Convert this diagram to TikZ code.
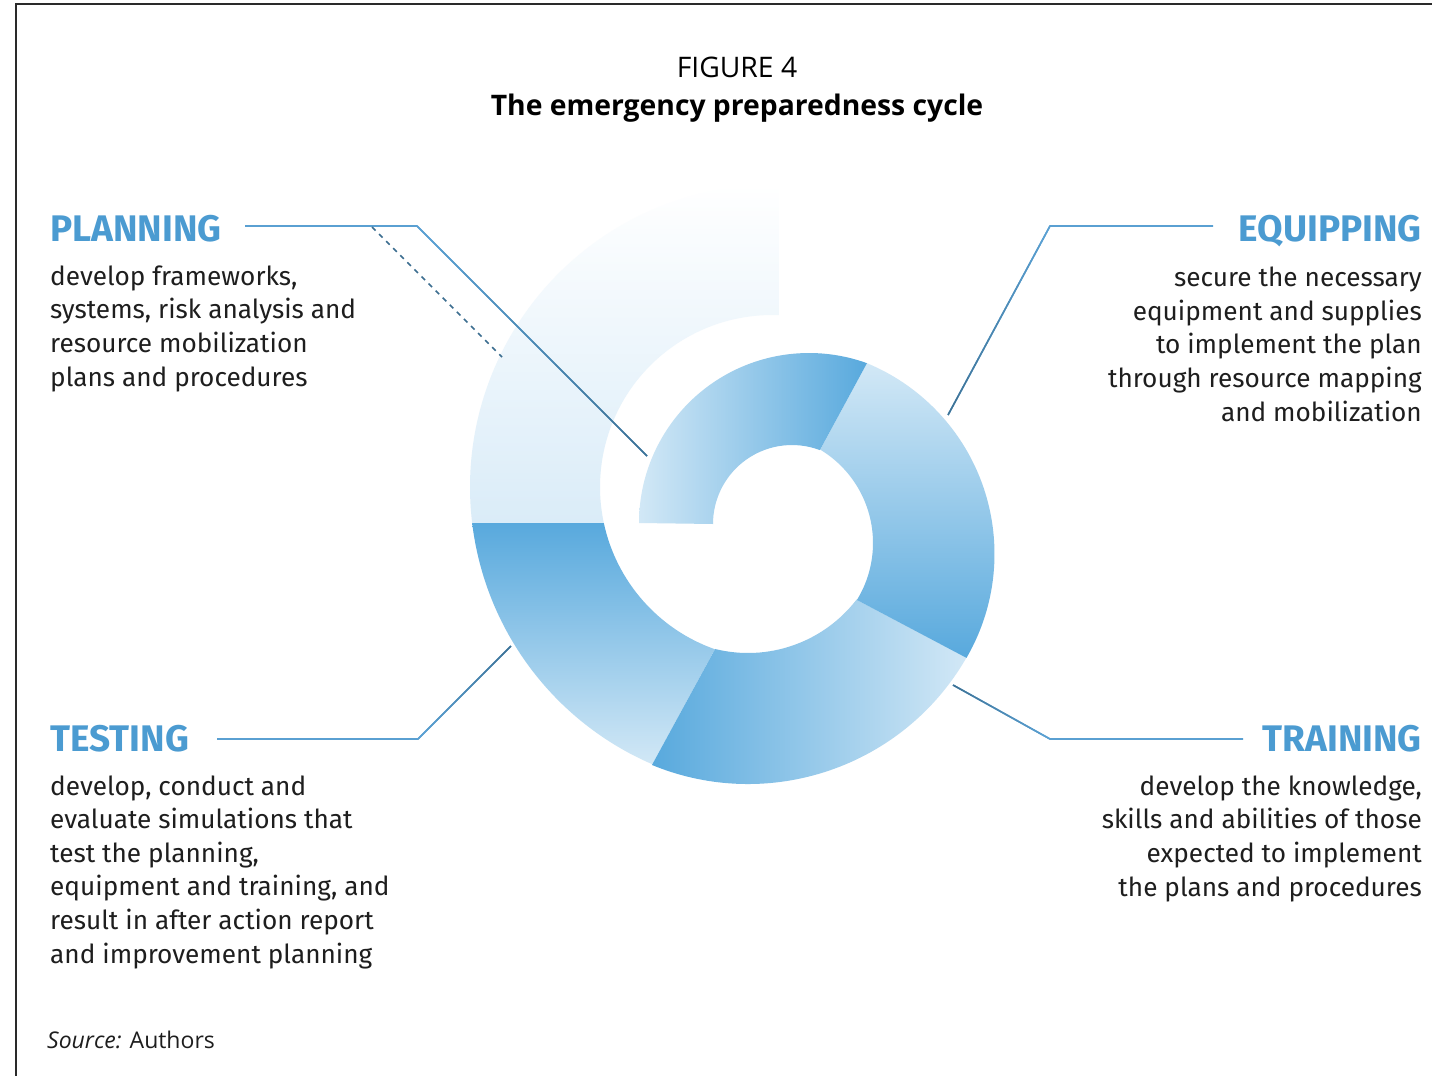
\documentclass[tikz,border=0pt]{standalone}
\usepackage{fontspec}
\setmainfont{Fira Sans}
\newfontfamily\titlefont{Open Sans}
\usetikzlibrary{calc}
\definecolor{segdark}{HTML}{58A9DD}
\definecolor{seglight}{HTML}{D2E8F6}
\definecolor{segfaint}{HTML}{DAECF8}
\definecolor{lblblue}{HTML}{4B9BD1}
\definecolor{lineblue}{HTML}{5AA0D2}
\definecolor{linedark}{HTML}{35617F}
\definecolor{txt}{HTML}{1E1E1E}
\definecolor{frame}{HTML}{2A2A2A}
\begin{document}
\begin{tikzpicture}[x=1pt,y=1pt,
  lbl/.style={font=\bfseries\fontsize{37}{42}\selectfont, text=lblblue, inner sep=0pt},
  body/.style={font=\fontsize{26.2}{33.6}\selectfont, text=txt, inner sep=0pt},
  conn/.style={draw=lineblue, line width=1.6pt, line join=miter},
  dashconn/.style={draw=linedark!80!lineblue, line width=1.6pt, dash pattern=on 5pt off 5pt}]
\useasboundingbox (0,0) rectangle (1432,-1076);
\fill[white] (0,0) rectangle (1432,-1076);
% frame
\draw[frame, line width=2.4pt] (16,-1076) -- (16,-4) -- (1432,-4);
% title
\node[font=\titlefont\fontsize{28.3}{32}\selectfont, anchor=base, inner sep=0pt] (fig) at (737,-77) {FIGURE 4};
\node[font=\titlefont\bfseries\fontsize{28.3}{32}\selectfont, anchor=base, inner sep=0pt] (ttl) at (737,-115) {The emergency preparedness cycle};
% spiral segments
% faint (upper left)
\shade[top color=white, bottom color=segfaint]
  ($(772,-487)+(186.85:302)$) arc[start angle=186.85, end angle=88.7, radius=302]
  -- ($(772,-487)+(87.7:172)$) arc[start angle=87.7, end angle=192.1, radius=172] -- cycle;
% testing
\shade[top color=segdark, bottom color=seglight]
  ($(772,-487)+(-113.35:302)$) arc[start angle=-113.35, end angle=-173.15, radius=302]
  -- ($(772,-487)+(-167.9:172)$) arc[start angle=-167.9, end angle=-109.4, radius=172] -- cycle;
% training
\shade[left color=segdark, right color=seglight]
  ($(748,-532)+(-29.9:252)$) arc[start angle=-29.9, end angle=-112.4, radius=252]
  -- ($(748,-516)+(-103.9:137)$) arc[start angle=-103.9, end angle=-37.6, radius=137] -- cycle;
% equipping
\shade[top color=seglight, bottom color=segdark]
  ($(788,-554)+(67.5:206.5)$) arc[start angle=67.5, end angle=-30.2, radius=206.5]
  -- ($(764,-543)+(-31.5:109)$) arc[start angle=-31.5, end angle=58.9, radius=109] -- cycle;
% planning
\shade[left color=seglight, right color=segdark]
  ($(809,-523)+(180:170)$) arc[start angle=180, end angle=70.07, radius=170]
  -- ($(792,-524)+(69.3:79)$) arc[start angle=69.3, end angle=180, radius=79] -- cycle;
% labels (base anchor of a multi-line node = baseline of its last line)
\node[lbl, anchor=base west] (planL) at (50,-241) {PLANNING};
\node[body, align=left, anchor=base west] (planT) at (50,-386) {develop frameworks,\\systems, risk analysis and\\resource mobilization\\plans and procedures};
\node[lbl, anchor=base east] (equipL) at (1422,-241) {EQUIPPING};
\node[body, align=right, anchor=base east] (equipT) at (1422,-421) {secure the necessary\\equipment and supplies\\to implement the plan\\through resource mapping\\and mobilization};
\node[lbl, anchor=base west] (testL) at (50,-751) {TESTING};
\node[body, align=left, anchor=base west] (testT) at (50,-963) {develop, conduct and\\evaluate simulations that\\test the planning,\\equipment and training, and\\result in after action report\\and improvement planning};
\node[lbl, anchor=base east] (trainL) at (1422,-751) {TRAINING};
\node[body, align=right, anchor=base east] (trainT) at (1422,-896) {develop the knowledge,\\skills and abilities of those\\expected to implement\\the plans and procedures};
\node[font=\titlefont\fontsize{23}{27}\selectfont, text=txt, anchor=base west, inner sep=0pt] (src) at (47,-1048) {\textit{Source:} Authors};
% connector coordinates
\coordinate (pS) at (245,-226); \coordinate (pB) at (417,-226); \coordinate (pE) at (647,-456);
\coordinate (dS) at (372,-227); \coordinate (dE) at (502,-357);
\coordinate (eS) at (1213,-226); \coordinate (eB) at (1050,-226); \coordinate (eE) at (948,-415);
\coordinate (rS) at (1243,-739); \coordinate (rB) at (1050,-739); \coordinate (rE) at (953,-685);
\coordinate (tS) at (217,-739); \coordinate (tB) at (418,-739); \coordinate (tE) at (511,-646);
% connectors
\draw[conn] (pS) -- (pB) -- (pE);
\draw[conn] (eS) -- (eB) -- (eE);
\draw[conn] (rS) -- (rB) -- (rE);
\draw[conn] (tS) -- (tB) -- (tE);
\foreach \a/\b in {pB/pE, eB/eE, rB/rE, tB/tE}{
  \foreach \k [count=\j from 1] in {0,...,9}{
    \pgfmathtruncatemacro{\pc}{\k*8}
    \draw[line width=1.6pt, color=linedark!\pc!lineblue] ($(\a)!\k/10!(\b)$) -- ($(\a)!\j/10!(\b)$);
  }
}
\draw[dashconn] (dS) -- (dE);
\end{tikzpicture}
\end{document}
